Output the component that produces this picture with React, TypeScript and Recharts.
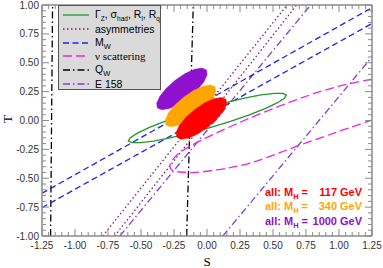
import React from "react";
import { ComposedChart, Line, XAxis, YAxis } from "recharts";

type Pair = [number, number];

// axis ticks (labelled ones); minor ticks every 0.05 in between
const sMajor = [-1.25, -1, -0.75, -0.5, -0.25, 0, 0.25, 0.5, 0.75, 1, 1.25];
const tMajor = [-1, -0.75, -0.5, -0.25, 0, 0.25, 0.5, 0.75, 1];

const mwUpper: Pair[] = [[-1.25, -0.63], [1.25, 0.977]];
const mwLower: Pair[] = [[-1.25, -0.755], [1.25, 0.84]];
const asymLeft: Pair[] = [[-0.79, -1], [0.607, 1]];
const asymRight: Pair[] = [[-0.7, -1], [0.68, 1]];
const e158Left: Pair[] = [[-0.66, -1], [0.785, 1]];
const e158Right: Pair[] = [[0.12, -1], [1.25, 0.55]];
const qwLeft: Pair[] = [[-1.185, -1], [-1.17, 1]];
const qwRight: Pair[] = [[-0.154, -1], [-0.104, 1]];

// nu scattering contour (open, leaves through the right edge)
const nuScatter: Pair[] = [
  [1.25, 0.359], [1.008, 0.299], [0.78, 0.221], [0.553, 0.126], [0.326, 0.022],
  [0.136, -0.074], [-0.053, -0.177], [-0.189, -0.264], [-0.25, -0.325],
  [-0.28, -0.385], [-0.265, -0.429], [-0.205, -0.446], [-0.091, -0.45],
  [0.061, -0.429], [0.326, -0.368], [0.667, -0.229], [1.03, -0.082], [1.25, 0.004],
];

// Z-pole contour
const zPole: Pair[] = [
  [0.601, 0.22], [0.586, 0.192], [0.531, 0.152], [0.44, 0.103], [0.32, 0.049],
  [0.178, -0.007], [0.023, -0.061], [-0.132, -0.11], [-0.279, -0.15], [-0.406, -0.178],
  [-0.505, -0.192], [-0.57, -0.192], [-0.596, -0.177], [-0.581, -0.149], [-0.527, -0.109],
  [-0.436, -0.06], [-0.315, -0.006], [-0.173, 0.05], [-0.019, 0.105], [0.137, 0.153],
  [0.283, 0.193], [0.41, 0.221], [0.51, 0.235], [0.575, 0.235],
];

// combined fits for three Higgs masses
const fit1000: Pair[] = [
  [-0.004, 0.438], [0.001, 0.396], [-0.023, 0.336], [-0.072, 0.267], [-0.139, 0.198],
  [-0.214, 0.141], [-0.285, 0.104], [-0.342, 0.092], [-0.376, 0.109], [-0.381, 0.15],
  [-0.357, 0.21], [-0.308, 0.28], [-0.241, 0.348], [-0.166, 0.406], [-0.095, 0.443],
  [-0.038, 0.454],
];
const fit340: Pair[] = [
  [0.061, 0.292], [0.066, 0.25], [0.042, 0.19], [-0.007, 0.121], [-0.074, 0.052],
  [-0.149, -0.006], [-0.22, -0.043], [-0.277, -0.054], [-0.311, -0.038], [-0.316, 0.004],
  [-0.292, 0.064], [-0.243, 0.134], [-0.176, 0.202], [-0.101, 0.26], [-0.03, 0.297],
  [0.027, 0.308],
];
const fit117: Pair[] = [
  [0.143, 0.184], [0.148, 0.142], [0.124, 0.082], [0.075, 0.013], [0.008, -0.056],
  [-0.067, -0.114], [-0.138, -0.151], [-0.195, -0.162], [-0.229, -0.146], [-0.234, -0.104],
  [-0.21, -0.044], [-0.161, 0.026], [-0.094, 0.094], [-0.019, 0.152], [0.052, 0.189],
  [0.109, 0.2],
];

const higgsMasses = ["117", "340", "1000"];
const higgsColors = ["#ff0000", "#ffa500", "#9010d0"];

const GREEN = "#23972b";
const DOTS = "#8b1a5e";
const BLUE = "#2020ee";
const MAGENTA = "#ee22ee";
const PURPLE = "#8040c8";

const toRows = (p: Pair[]) => p.map(([s, t]) => ({ s, t }));

const withMinor = (major: number[]) => {
  const out: number[] = [];
  for (let i = 0; i < major.length - 1; i++) {
    const step = (major[i + 1] - major[i]) / 5;
    for (let k = 0; k < 5; k++) out.push(+(major[i] + k * step).toFixed(4));
  }
  out.push(major[major.length - 1]);
  return out;
};

const isMajor = (v: number, majors: number[]) => majors.some((m) => Math.abs(m - v) < 1e-6);

const AxisTick = (props: any) => {
  const { x, y, payload, side, majors, showLabel } = props;
  const v = payload.value;
  const major = isMajor(v, majors);
  const len = major ? 7 : 4;
  let line;
  if (side === "bottom") line = <line x1={x} y1={y} x2={x} y2={y - len} />;
  else if (side === "top") line = <line x1={x} y1={y} x2={x} y2={y + len} />;
  else if (side === "left") line = <line x1={x} y1={y} x2={x + len} y2={y} />;
  else line = <line x1={x} y1={y} x2={x - len} y2={y} />;
  return (
    <g>
      <g stroke="#8a8a8a" strokeWidth={1}>{line}</g>
      {showLabel && major && (
        <text
          x={side === "left" ? x - 3 : x}
          y={side === "left" ? y + 3.5 : y + 12.5}
          textAnchor={side === "left" ? "end" : "middle"}
          fontSize={10}
          fontFamily="Liberation Sans, Arial, sans-serif"
          fill="#333"
        >
          {v.toFixed(2)}
        </text>
      )}
    </g>
  );
};

const Sub = ({ children, size = 6.5 }: { children: React.ReactNode; size?: number }) => (
  <span style={{ fontSize: `${size}px`, position: "relative", top: 3 }}>{children}</span>
);

const legendItems: { stroke: string; dash?: string; label: React.ReactNode; serif?: boolean }[] = [
  {
    stroke: GREEN,
    label: (
      <>
        Γ<Sub>Z</Sub>, σ<Sub>had</Sub>, R<Sub>l</Sub>, R<Sub>q</Sub>
      </>
    ),
  },
  { stroke: DOTS, dash: "1.5 2.5", label: "asymmetries" },
  { stroke: BLUE, dash: "6 3.5", label: <>M<Sub size={7.5}>W</Sub></> },
  { stroke: MAGENTA, dash: "9 4", label: "ν scattering", serif: true },
  { stroke: "#000", dash: "7 3 1.5 3", label: <>Q<Sub size={7.5}>W</Sub></> },
  { stroke: PURPLE, dash: "7 3 1.5 3", label: "E 158" },
];

const axisLine = { stroke: "#8a8a8a", strokeWidth: 1.5 };
const domainS: [number, number] = [-1.25, 1.25];
const domainT: [number, number] = [-1, 1];

export default function App() {
  const sTicks = withMinor(sMajor);
  const tTicks = withMinor(tMajor);

  const line = (data: Pair[], stroke: string, dash?: string, key?: string) => (
    <Line
      key={key}
      data={toRows(data)}
      dataKey="t"
      type="linear"
      stroke={stroke}
      strokeWidth={1.3}
      strokeDasharray={dash}
      dot={false}
      activeDot={false}
      isAnimationActive={false}
    />
  );

  const blob = (data: Pair[], color: string) => (
    <Line
      data={toRows(data)}
      dataKey="t"
      type="linearClosed"
      stroke={color}
      strokeWidth={0.5}
      style={{ fill: color }}
      dot={false}
      activeDot={false}
      isAnimationActive={false}
    />
  );

  return (
    <div style={{ position: "relative", width: 383, height: 268, background: "#fff" }}>
      <style>{`body{margin:0}`}</style>
      <ComposedChart width={383} height={268} margin={{ top: 4, right: 10, bottom: 31, left: 41 }}>
        <XAxis
          dataKey="s"
          type="number"
          domain={domainS}
          allowDataOverflow
          ticks={sTicks}
          interval={0}
          height={1}
          tickSize={0}
          tickMargin={0}
          tickLine={false}
          axisLine={axisLine}
          tick={(p: any) => <AxisTick {...p} side="bottom" majors={sMajor} showLabel />}
        />
        <XAxis
          xAxisId="top"
          orientation="top"
          dataKey="s"
          type="number"
          domain={domainS}
          allowDataOverflow
          ticks={sTicks}
          interval={0}
          height={1}
          tickSize={0}
          tickMargin={0}
          tickLine={false}
          axisLine={axisLine}
          tick={(p: any) => <AxisTick {...p} side="top" majors={sMajor} />}
        />
        <YAxis
          type="number"
          domain={domainT}
          allowDataOverflow
          ticks={tTicks}
          interval={0}
          width={1}
          tickSize={0}
          tickMargin={0}
          tickLine={false}
          axisLine={axisLine}
          tick={(p: any) => <AxisTick {...p} side="left" majors={tMajor} showLabel />}
        />
        <YAxis
          yAxisId="right"
          orientation="right"
          type="number"
          domain={domainT}
          allowDataOverflow
          ticks={tTicks}
          interval={0}
          width={1}
          tickSize={0}
          tickMargin={0}
          tickLine={false}
          axisLine={axisLine}
          tick={(p: any) => <AxisTick {...p} side="right" majors={tMajor} />}
        />

        {line(qwLeft, "#000", "7 3 1.5 3", "qw1")}
        {line(qwRight, "#000", "7 3 1.5 3", "qw2")}
        {line(e158Left, PURPLE, "7 3 1.5 3", "e1")}
        {line(e158Right, PURPLE, "7 3 1.5 3", "e2")}
        {line(asymLeft, DOTS, "1.5 2.5", "a1")}
        {line(asymRight, DOTS, "1.5 2.5", "a2")}
        {line(mwUpper, BLUE, "6 3.5", "m1")}
        {line(mwLower, BLUE, "6 3.5", "m2")}
        <Line
          data={toRows(nuScatter)}
          dataKey="t"
          type="natural"
          stroke={MAGENTA}
          strokeWidth={1.3}
          strokeDasharray="9 4"
          dot={false}
          activeDot={false}
          isAnimationActive={false}
        />
        <Line
          data={toRows(zPole)}
          dataKey="t"
          type="linearClosed"
          stroke={GREEN}
          strokeWidth={1.3}
          dot={false}
          activeDot={false}
          isAnimationActive={false}
        />
        {blob(fit1000, higgsColors[2])}
        {blob(fit340, higgsColors[1])}
        {blob(fit117, higgsColors[0])}
      </ComposedChart>

      {/* legend */}
      <div
        style={{
          position: "absolute",
          left: 58,
          top: 5,
          width: 103,
          height: 85,
          background: "#dadada",
          border: "1px solid #555",
          boxSizing: "border-box",
          fontFamily: "Liberation Sans, Arial, sans-serif",
          fontSize: 10.5,
          color: "#000",
          overflow: "hidden",
        }}
      >
        {legendItems.map((it, i) => (
          <div
            key={i}
            style={{
              position: "absolute",
              left: 3,
              top: 2 + i * 13.8,
              height: 14,
              display: "flex",
              alignItems: "center",
              whiteSpace: "nowrap",
            }}
          >
            <svg width={28} height={14} style={{ display: "block" }}>
              <line x1={1} y1={7} x2={27} y2={7} stroke={it.stroke} strokeWidth={1.3} strokeDasharray={it.dash} />
            </svg>
            <span
              style={{
                marginLeft: 5,
                lineHeight: "14px",
                fontFamily: it.serif ? "Liberation Serif, Times New Roman, serif" : undefined,
                fontSize: it.serif ? 11 : 10.5,
              }}
            >
              {it.label}
            </span>
          </div>
        ))}
      </div>

      {/* Higgs mass annotation */}
      {higgsMasses.map((m, i) => (
        <div
          key={m}
          style={{
            position: "absolute",
            left: 265,
            top: 185 + i * 14.3,
            width: 100,
            height: 14,
            lineHeight: "14px",
            fontFamily: "Liberation Sans, Arial, sans-serif",
            fontWeight: "bold",
            fontSize: 11,
            color: higgsColors[i],
            whiteSpace: "nowrap",
          }}
        >
          <span>
            all: M<Sub size={7.5}>H</Sub> =
          </span>
          <span style={{ position: "absolute", right: 28, top: 0 }}>{m}</span>
          <span style={{ position: "absolute", left: 75, top: 0 }}>GeV</span>
        </div>
      ))}

      {/* axis titles */}
      <div
        style={{
          position: "absolute",
          left: 1,
          top: 112,
          width: 14,
          height: 14,
          lineHeight: "14px",
          textAlign: "center",
          fontFamily: "Liberation Serif, Times New Roman, serif",
          fontSize: 13,
          transform: "rotate(-90deg)",
        }}
      >
        T
      </div>
      <div
        style={{
          position: "absolute",
          left: 199,
          top: 254,
          width: 16,
          lineHeight: "16px",
          textAlign: "center",
          fontFamily: "Liberation Serif, Times New Roman, serif",
          fontSize: 13,
        }}
      >
        S
      </div>
    </div>
  );
}
